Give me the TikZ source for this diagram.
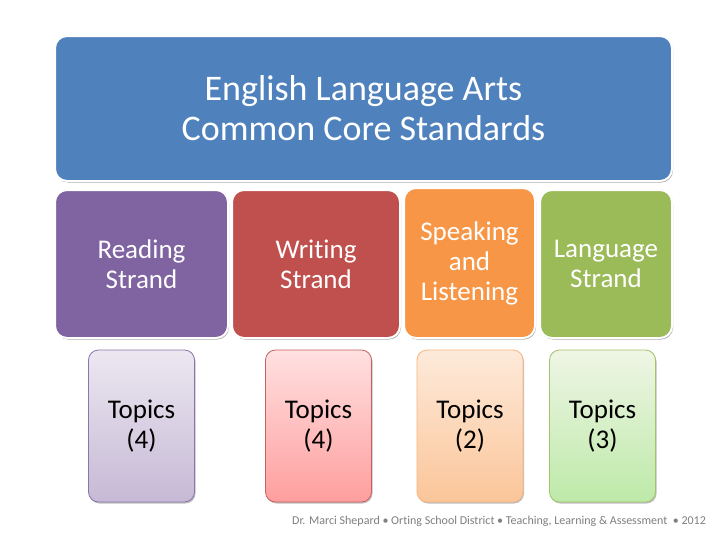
\documentclass[tikz,border=0pt]{standalone}
\usepackage{fontspec}
\setmainfont{Carlito}[Ligatures={NoCommon}]
\usetikzlibrary{shadows}
\definecolor{cblue}{HTML}{4F81BD}
\definecolor{cpurple}{HTML}{8064A2}
\definecolor{cred}{HTML}{C0504D}
\definecolor{corange}{HTML}{F79646}
\definecolor{cgreen}{HTML}{9BBB59}
\definecolor{footgray}{HTML}{7F7F7F}
\tikzset{
  bigbox/.style={draw=white, line width=2pt, rounded corners=12pt, text=white,
    align=center, inner sep=0pt,
    drop shadow={shadow xshift=1pt, shadow yshift=-1.5pt, opacity=0.35, fill=black}},
  topicbox/.style={line width=0.8pt, rounded corners=10pt, text=black,
    align=center, inner sep=0pt, minimum width=106pt, minimum height=152pt,
    drop shadow={shadow xshift=1pt, shadow yshift=-1.5pt, opacity=0.25, fill=black}},
  strandfont/.style={font=\fontsize{27}{30}\selectfont},
}
\begin{document}
\begin{tikzpicture}[x=1pt,y=-1pt]
\useasboundingbox (0,0) rectangle (728,546);
\fill[white] (0,0) rectangle (728,546);
% Title
\node[bigbox, fill=cblue, minimum width=617pt, minimum height=145pt,
      font=\fontsize{36}{40}\selectfont] (title) at (363.5,108.5)
      {English Language Arts\\Common Core Standards};
% Strands
\node[bigbox, strandfont, fill=cpurple, minimum width=173pt, minimum height=148pt] (read) at (141.5,264) {Reading\\Strand};
\node[bigbox, strandfont, fill=cred, minimum width=168pt, minimum height=148pt] (write) at (316,264) {Writing\\Strand};
\node[bigbox, strandfont, fill=corange, minimum width=131pt, minimum height=150pt] (speak) at (469.5,263) {Speaking\\and\\Listening};
\node[bigbox, strandfont, fill=cgreen, minimum width=132pt, minimum height=148pt] (lang) at (606,264) {Language\\Strand};
% Topics
\node[topicbox, strandfont, draw=cpurple!90, top color=cpurple!15, bottom color=cpurple!45] (treadt) at (141.5,426) {Topics\\(4)};
\node[topicbox, strandfont, draw=cred!90, top color=red!12, bottom color=red!38] (twrite) at (318.5,426) {Topics\\(4)};
\node[topicbox, strandfont, draw=corange!70, top color=corange!20, bottom color=corange!55] (tspeak) at (470,426) {Topics\\(2)};
\node[topicbox, strandfont, draw=cgreen!90, top color=green!5!cgreen!15, bottom color=green!30!cgreen!45] (tlang) at (602.5,426) {Topics\\(3)};
% Footer
\node[text=footgray, font=\fontsize{12}{14}\selectfont, anchor=center] (foot) at (499,521)
  {Dr. Marci Shepard \textbullet{} Orting School District \textbullet{} Teaching, Learning \& Assessment \ \textbullet{} 2012};
\end{tikzpicture}
\end{document}
